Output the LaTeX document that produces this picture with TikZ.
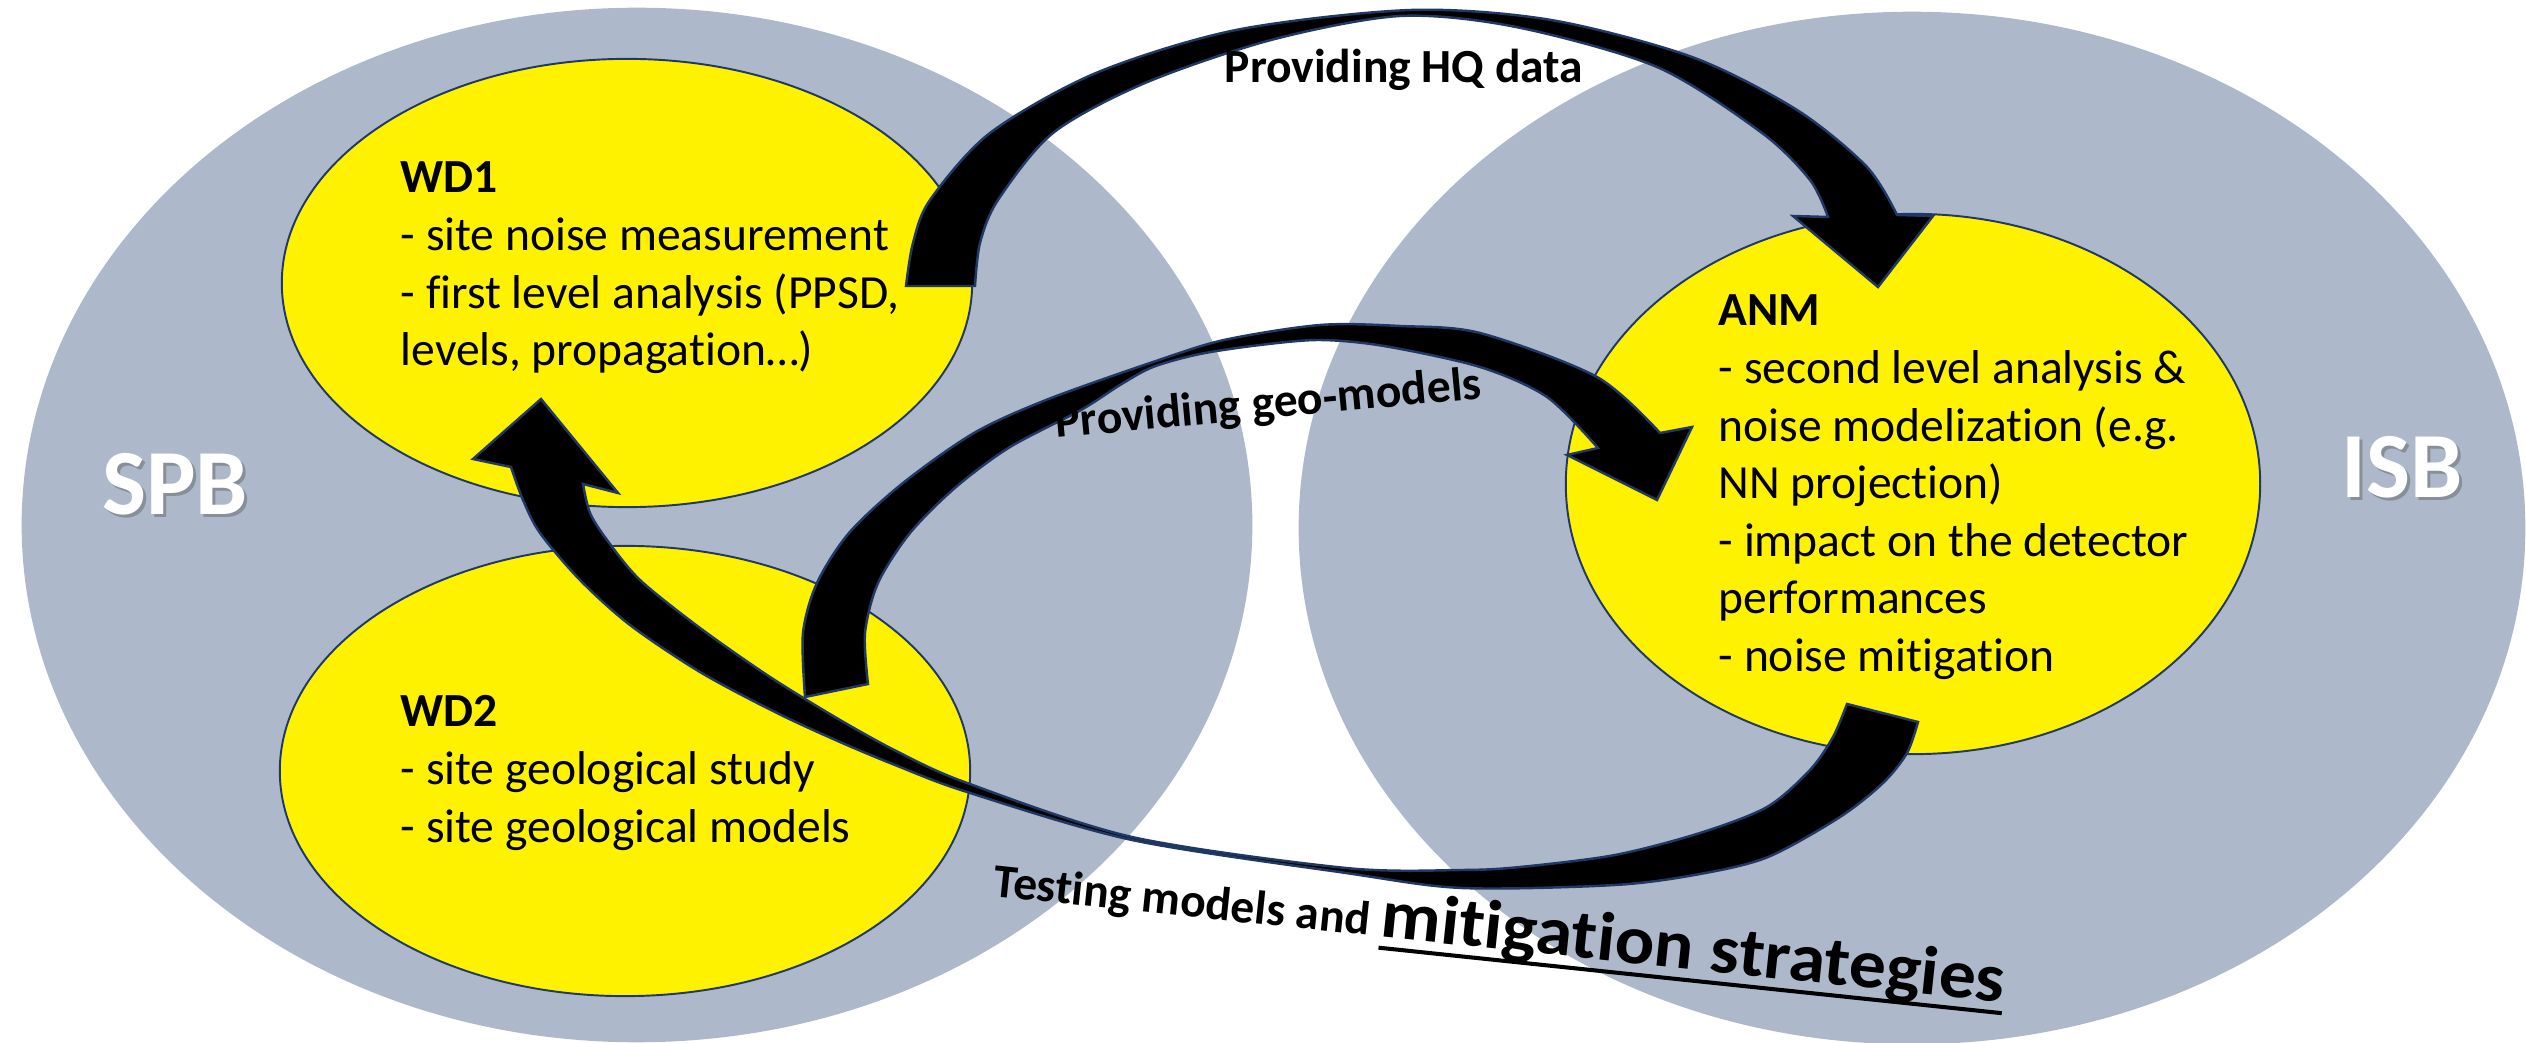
\documentclass[tikz,border=0pt]{standalone}
\usepackage{fontspec}
\setmainfont{Carlito}[Ligatures={CommonOff,ContextualOff}]
\usetikzlibrary{shapes.geometric}
\definecolor{bgray}{RGB}{173,185,202}
\definecolor{navy}{RGB}{32,56,100}
\newcommand\thickul[1]{\setbox0=\hbox{#1}\rlap{\rule[-3.7pt]{\wd0}{1.15pt}}\box0}
\begin{document}
\begin{tikzpicture}[x=0.01cm, y=-0.01cm,
  zone/.style={ellipse, fill=bgray, inner sep=0pt},
  wd/.style={ellipse, fill=yellow, draw=navy, line width=0.55pt, inner sep=0pt},
  body/.style={anchor=base west, inner sep=0pt, font=\fontsize{13.52pt}{16.36pt}\selectfont},
  blbl/.style={inner sep=0pt, font=\bfseries\fontsize{13.52pt}{16.36pt}\selectfont},
  big/.style={anchor=base, inner sep=0pt, font=\bfseries\fontsize{26.5pt}{30pt}\selectfont},
  barrow/.style={fill=black, draw=navy, line width=0.7pt, line join=miter}]
\useasboundingbox (0,0) rectangle (2526,1043);
\clip (0,0) rectangle (2526,1043);

% big zones
\node[zone, minimum width=12.30cm, minimum height=10.34cm] (spb) at (637,525) {};
\node[zone, minimum width=12.26cm, minimum height=10.32cm] (isb) at (1912,528) {};

% yellow work packages
\node[wd, minimum width=6.90cm, minimum height=4.48cm] (wd1) at (627,283) {};
\node[wd, minimum width=6.90cm, minimum height=4.50cm] (wd2) at (625,771) {};
\node[wd, minimum width=6.94cm, minimum height=5.40cm] (anm) at (1913,484) {};

% zone labels with shadow
\node[big, text=black!60, opacity=0.5] at (178,518) {SPB};
\node[big, text=white] (spbl) at (175,515) {SPB};
\node[big, text=black!60, opacity=0.5] at (2405,501) {ISB};
\node[big, text=white] (isbl) at (2402,498) {ISB};

% arrow 1: Providing HQ data (WD1 -> ANM)
\filldraw[barrow] plot[smooth, tension=0.5] coordinates {(906,286) (913,243) (930,200) (990,133) (1096,73) (1236,30) (1411,10) (1551,20) (1692,57) (1797,110) (1867,167) (1897,215)}
  -- (1933,216) -- (1878,287) -- (1793,216)
  -- plot[smooth, tension=0.5] coordinates {(1828,217) (1810,180) (1762,133) (1657,67) (1516,27) (1400,16) (1271,40) (1145,83) (1053,133) (998,200) (980,243) (975,286)}
  -- cycle;

% arrow 2: Providing geo-models (WD2 -> ANM)
\filldraw[barrow] plot[smooth, tension=0.5] coordinates {(805,697) (803,633) (817,583) (849,533) (903,483) (974,433) (1046,400) (1153,362) (1224,340) (1320,325) (1400,326) (1480,333) (1597,377) (1660,433)}
  -- (1692,427) -- (1657,500) -- (1567,455)
  -- plot[smooth, tension=0.5] coordinates {(1598,448) (1547,397) (1480,367) (1384,346) (1320,340) (1260,345) (1200,354) (1153,367) (1120,385) (1081,410) (1010,447) (956,487) (910,533) (878,583) (865,633) (868,684)}
  -- cycle;

% arrow 3: Testing models and mitigation strategies (ANM -> WD1)
\filldraw[barrow] plot[smooth, tension=0.5] coordinates {(1918,722) (1907,753) (1883,783) (1840,817) (1768,857) (1700,874) (1615,885) (1462,888) (1346,873) (1132,840) (967,792) (900,767) (840,742) (775,712) (700,672) (630,625) (580,580) (540,533) (523,500) (511,467)}
  -- (473,459) -- (541,399) -- (618,493)
  -- plot[smooth, tension=0.5] coordinates {(583,484) (590,513) (607,540) (640,580) (700,628) (770,677) (840,720) (900,753) (967,783) (1132,837) (1346,868) (1462,870) (1520,867) (1615,855) (1700,833) (1767,807) (1810,770) (1833,737) (1847,704)}
  -- cycle;

% texts
\node[body] (wd1t) at (400,193) {\begin{tabular}[t]{@{}l@{}}\textbf{WD1}\\- site noise measurement\\- first level analysis (PPSD,\\levels, propagation…)\end{tabular}};
\node[body] (wd2t) at (400,727) {\begin{tabular}[t]{@{}l@{}}\textbf{WD2}\\- site geological study\\- site geological models\end{tabular}};
\node[body] (anmt) at (1718,326) {\begin{tabular}[t]{@{}l@{}}\textbf{ANM}\\- second level analysis \&\\noise modelization (e.g.\\NN projection)\\- impact on the detector\\performances\\- noise mitigation\end{tabular}};

\node[blbl, anchor=base] (hq) at (1404,83) {Providing HQ data};
\node[blbl, anchor=base west, rotate=5.3] (geo) at (1056,438) {Providing geo-models};
\node[blbl, anchor=base west, rotate=-6] (test) at (992,896) {Testing models and \thickul{\scalebox{1.07}[1]{\fontsize{19.6pt}{22pt}\selectfont mitigation strategies}}};
\end{tikzpicture}
\end{document}
